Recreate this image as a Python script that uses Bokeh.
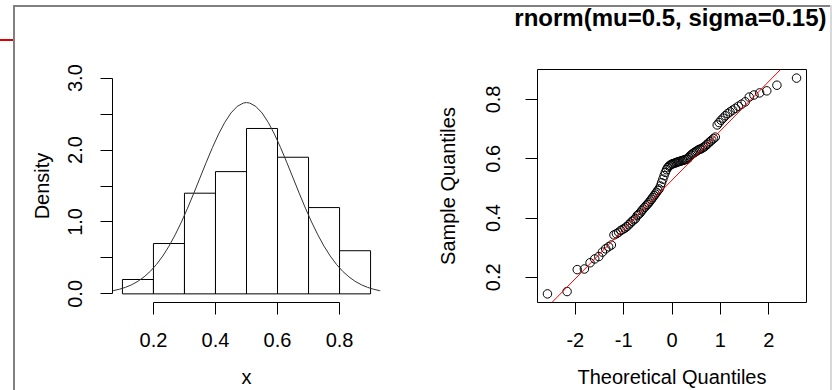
from bokeh.plotting import figure
from bokeh.layouts import row
from bokeh.models import FixedTicker, Slope, NumeralTickFormatter, Title
from bokeh.embed import file_html
from bokeh.resources import INLINE
import numpy as np

# ---------------- data ----------------
bin_left = [0.1, 0.2, 0.3, 0.4, 0.5, 0.6, 0.7, 0.8]
bin_right = [0.2, 0.3, 0.4, 0.5, 0.6, 0.7, 0.8, 0.9]
density = [0.2, 0.7, 1.4, 1.7, 2.3, 1.9, 1.2, 0.6]

curve_x = [0.068, 0.07, 0.09, 0.11, 0.13, 0.15, 0.17, 0.19, 0.21, 0.23, 0.25, 0.27,
           0.29, 0.31, 0.33, 0.35, 0.37, 0.39, 0.41, 0.43, 0.45, 0.47, 0.49, 0.50,
           0.51, 0.53, 0.55, 0.57, 0.59, 0.61, 0.63, 0.65, 0.67, 0.69, 0.71, 0.73,
           0.75, 0.77, 0.79, 0.81, 0.83, 0.85, 0.87, 0.89, 0.91, 0.93, 0.932]
curve_y = [0.042, 0.044, 0.064, 0.091, 0.127, 0.175, 0.237, 0.314, 0.410, 0.526, 0.663, 0.821,
           0.998, 1.192, 1.399, 1.613, 1.827, 2.033, 2.222, 2.385, 2.516, 2.607, 2.654, 2.660,
           2.654, 2.607, 2.516, 2.385, 2.222, 2.033, 1.827, 1.613, 1.399, 1.192, 0.998, 0.821,
           0.663, 0.526, 0.410, 0.314, 0.237, 0.175, 0.127, 0.091, 0.064, 0.044, 0.042]

theo_q = [-2.576, -2.170, -1.960, -1.812, -1.695, -1.598, -1.514, -1.440, -1.372, -1.311,
          -1.254, -1.200, -1.150, -1.103, -1.058, -1.015, -0.974, -0.935, -0.896, -0.860,
          -0.824, -0.789, -0.755, -0.722, -0.690, -0.659, -0.628, -0.598, -0.568, -0.539,
          -0.510, -0.482, -0.454, -0.426, -0.399, -0.372, -0.345, -0.319, -0.292, -0.266,
          -0.240, -0.215, -0.189, -0.164, -0.138, -0.113, -0.088, -0.063, -0.038, -0.013,
          0.013, 0.038, 0.063, 0.088, 0.113, 0.138, 0.164, 0.189, 0.215, 0.240,
          0.266, 0.292, 0.319, 0.345, 0.372, 0.399, 0.426, 0.454, 0.482, 0.510,
          0.539, 0.568, 0.598, 0.628, 0.659, 0.690, 0.722, 0.755, 0.789, 0.824,
          0.860, 0.896, 0.935, 0.974, 1.015, 1.058, 1.103, 1.150, 1.200, 1.254,
          1.311, 1.372, 1.440, 1.514, 1.598, 1.695, 1.812, 1.960, 2.170, 2.576]
sample_q = [0.144, 0.152, 0.226, 0.228, 0.249, 0.262, 0.270, 0.285, 0.296, 0.303,
            0.309, 0.343, 0.347, 0.352, 0.358, 0.362, 0.366, 0.371, 0.377, 0.383,
            0.389, 0.394, 0.398, 0.408, 0.412, 0.417, 0.424, 0.430, 0.436, 0.441,
            0.446, 0.451, 0.457, 0.463, 0.469, 0.475, 0.481, 0.487, 0.493, 0.498,
            0.508, 0.519, 0.531, 0.543, 0.554, 0.563, 0.570, 0.575, 0.578, 0.581,
            0.583, 0.584, 0.586, 0.587, 0.589, 0.590, 0.591, 0.593, 0.594, 0.595,
            0.597, 0.598, 0.599, 0.604, 0.609, 0.613, 0.617, 0.620, 0.623, 0.626,
            0.629, 0.632, 0.633, 0.636, 0.639, 0.643, 0.648, 0.653, 0.658, 0.663,
            0.668, 0.673, 0.714, 0.722, 0.730, 0.737, 0.745, 0.752, 0.758, 0.764,
            0.770, 0.777, 0.784, 0.792, 0.808, 0.815, 0.822, 0.829, 0.848, 0.872]

hist_xticks = [0.2, 0.4, 0.6, 0.8]
hist_yticks = [0, 1, 2, 3]
hist_yminor = [0.5, 1.5, 2.5]
qq_xticks = [-2, -1, 0, 1, 2]
qq_yticks = [0.2, 0.4, 0.6, 0.8]

title_text = "rnorm(mu=0.5, sigma=0.15)"
FONT = "Liberation Sans"


def style_axes(p):
    for ax in (p.xaxis[0], p.yaxis[0]):
        ax.axis_line_color = "black"
        ax.axis_line_width = 1
        ax.major_tick_line_color = "black"
        ax.major_tick_in = 0
        ax.major_tick_out = 12
        ax.minor_tick_line_color = None
        ax.major_label_text_font = FONT
        ax.major_label_text_font_size = "20px"
        ax.major_label_text_color = "black"
        ax.axis_label_text_font = FONT
        ax.axis_label_text_font_size = "20px"
        ax.axis_label_text_font_style = "normal"
        ax.axis_label_text_color = "black"
    p.yaxis[0].major_label_orientation = "vertical"


# ---------------- histogram panel ----------------
p1 = figure(width=401, height=390, output_backend="svg", toolbar_location=None,
            x_range=(0.068, 0.932), y_range=(-0.12, 3.12),
            min_border_left=97, min_border_right=36, min_border_top=69, min_border_bottom=87)
p1.outline_line_color = None
p1.xgrid.visible = False
p1.ygrid.visible = False
p1.background_fill_color = "white"
p1.border_fill_alpha = 0

p1.quad(left=bin_left, right=bin_right, bottom=0, top=density,
        fill_color="white", line_color="black", line_width=1)
p1.line(curve_x, curve_y, line_color="#333333", line_width=1)

p1.xaxis.axis_label = "x"
p1.yaxis.axis_label = "Density"
style_axes(p1)
p1.xaxis.ticker = FixedTicker(ticks=hist_xticks)
p1.xaxis.bounds = (hist_xticks[0], hist_xticks[-1])
p1.xaxis.formatter = NumeralTickFormatter(format="0.0")
p1.yaxis.ticker = FixedTicker(ticks=hist_yticks, minor_ticks=hist_yminor)
p1.yaxis.bounds = (hist_yticks[0], hist_yticks[-1])
p1.yaxis.formatter = NumeralTickFormatter(format="0.0")
p1.yaxis.minor_tick_line_color = "black"
p1.yaxis.minor_tick_in = 0
p1.yaxis.minor_tick_out = 12
p1.xaxis.major_label_standoff = 18
p1.xaxis.axis_label_standoff = 16
p1.yaxis.major_label_standoff = 18
p1.yaxis.axis_label_standoff = 13

# ---------------- QQ panel ----------------
p2 = figure(width=414, height=390, output_backend="svg", toolbar_location=None,
            x_range=(-2.782, 2.782), y_range=(0.115, 0.901),
            min_border_left=121, min_border_right=24, min_border_top=69, min_border_bottom=88)
p2.outline_line_color = "black"
p2.outline_line_width = 1
p2.xgrid.visible = False
p2.ygrid.visible = False
p2.background_fill_color = "white"
p2.border_fill_alpha = 0

# spacer between the frame and the title, then the title itself
p2.add_layout(Title(text=" ", text_font_size="1px", standoff=35.5), "above")
p2.add_layout(Title(text=title_text, align="right", offset=-20, standoff=0,
                    vertical_align="bottom", text_font=FONT, text_font_size="24px",
                    text_font_style="bold", text_color="black"), "above")

q1, q3 = np.percentile(sample_q, [25, 75])
z = 0.6744897501960817
slope = (q3 - q1) / (2 * z)
intercept = q1 + slope * z

p2.scatter(theo_q, sample_q, marker="circle", size=8.5, fill_color=None,
           line_color="black", line_width=1)
p2.add_layout(Slope(gradient=slope, y_intercept=intercept, line_color="red", line_width=1))

p2.xaxis.axis_label = "Theoretical Quantiles"
p2.yaxis.axis_label = "Sample Quantiles"
style_axes(p2)
p2.xaxis.ticker = FixedTicker(ticks=qq_xticks)
p2.xaxis.bounds = (qq_xticks[0], qq_xticks[-1])
p2.xaxis.formatter = NumeralTickFormatter(format="0")
p2.yaxis.ticker = FixedTicker(ticks=qq_yticks)
p2.yaxis.bounds = (qq_yticks[0], qq_yticks[-1])
p2.yaxis.formatter = NumeralTickFormatter(format="0.0")
p2.xaxis.major_label_standoff = 18
p2.xaxis.axis_label_standoff = 16
p2.yaxis.major_label_standoff = 25
p2.yaxis.axis_label_standoff = 25

page_lines = ", ".join([
    "linear-gradient(#808080, #808080) 13px 5px / 2px 385px no-repeat",
    "linear-gradient(#808080, #808080) 13px 5px / 817px 2px no-repeat",
    "linear-gradient(#d8d8d8, #d8d8d8) 830px 5px / 2px 385px no-repeat",
    "linear-gradient(#e00000, #e00000) 0px 39px / 13px 2px no-repeat",
])
layout = row(p1, p2, styles={
    "padding-left": "15px",
    "padding-right": "2px",
    "background": page_lines,
    "background-color": "white",
})
open("out.html", "w").write(file_html(layout, INLINE))
